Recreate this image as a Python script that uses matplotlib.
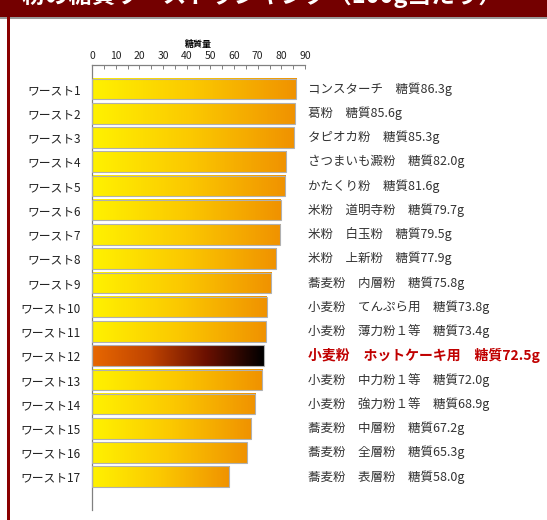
import numpy as np
import matplotlib
matplotlib.use("Agg")
import matplotlib.pyplot as plt
from matplotlib.colors import LinearSegmentedColormap
from matplotlib.patches import Rectangle
from matplotlib import transforms

plt.rcParams['font.family'] = ['Noto Sans CJK JP', 'DejaVu Sans']

# ── Data ──────────────────────────────────────────────────────────────────────
ranks = [f"ワースト{i}" for i in range(1, 18)]
foods = [
    "コンスターチ", "葛粉", "タピオカ粉", "さつまいも澱粉", "かたくり粉",
    "米粉　道明寺粉", "米粉　白玉粉", "米粉　上新粉", "蕎麦粉　内層粉",
    "小麦粉　てんぷら用", "小麦粉　薄力粉１等", "小麦粉　ホットケーキ用",
    "小麦粉　中力粉１等", "小麦粉　強力粉１等", "蕎麦粉　中層粉",
    "蕎麦粉　全層粉", "蕎麦粉　表層粉",
]
sugar = [86.3, 85.6, 85.3, 82.0, 81.6, 79.7, 79.5, 77.9, 75.8,
         73.8, 73.4, 72.5, 72.0, 68.9, 67.2, 65.3, 58.0]
highlight = 11
title = "粉の糖質ワーストランキング（100g当たり）"

W, H = 547, 520
fig = plt.figure(figsize=(W / 100, H / 100), dpi=100)

# ── Frame: banner + left border ──────────────────────────────────────────────
fig.patches.append(Rectangle((0, 1 - 17 / H), 1, 17 / H, transform=fig.transFigure,
                             facecolor='#740000', edgecolor='none', zorder=0))
fig.patches.append(Rectangle((0, 1 - 18.5 / H), 1, 1.5 / H, transform=fig.transFigure,
                             facecolor='#9a9a9a', edgecolor='none', zorder=0))
fig.patches.append(Rectangle((7 / W, 0), 3 / W, 1 - 17 / H, transform=fig.transFigure,
                             facecolor='#8a0000', edgecolor='none', zorder=0))
# title sits mostly above the top edge, as in the reference crop
fig.text(22 / W, 1 + 5 / H, title, color='white', fontsize=17, fontweight='bold',
         ha='left', va='center')

# ── Axes ─────────────────────────────────────────────────────────────────────
x0, x1 = 92, 305
ytop, ybot = 65, 510
ax = fig.add_axes([x0 / W, 1 - ybot / H, (x1 - x0) / W, (ybot - ytop) / H])

cmap_norm = LinearSegmentedColormap.from_list('norm', ['#fff200', '#fbc800', '#f09200'])
cmap_hl = LinearSegmentedColormap.from_list('hl', ['#e86800', '#c04400', '#6a1000', '#000000'])
grad = np.linspace(0, 1, 256).reshape(1, -1)

bh = 0.85
for i, v in enumerate(sugar):
    cm = cmap_hl if i == highlight else cmap_norm
    ax.imshow(grad, cmap=cm, aspect='auto', interpolation='bilinear',
              extent=[0, v, i + bh / 2, i - bh / 2], zorder=2)
    ax.add_patch(Rectangle((0, i - bh / 2), v, bh, fill=False,
                           edgecolor='#b0b0b0', linewidth=0.8, zorder=3))

ax.set_xlim(0, 90)
ax.set_ylim(17.37, -0.99)

ax.spines['right'].set_visible(False)
ax.spines['bottom'].set_visible(False)
for s in ('left', 'top'):
    ax.spines[s].set_color('#808080')
    ax.spines[s].set_linewidth(0.9)

ax.xaxis.set_ticks_position('top')
ax.set_xticks(np.arange(0, 91, 10))
ax.set_xticks(np.arange(0, 91, 5), minor=True)
ax.tick_params(axis='x', which='both', direction='in', length=3, width=0.7,
               color='#808080', labelsize=7.5, pad=3, labelcolor='#222222')
ax.set_xlabel('糖質量', fontsize=6.5, fontweight='bold', labelpad=3)
ax.xaxis.set_label_position('top')

ax.set_yticks(range(len(ranks)))
ax.set_yticklabels(ranks, fontsize=8.5, color='#222222')
ax.tick_params(axis='y', length=0, pad=8)

tr = transforms.blended_transform_factory(ax.transAxes, ax.transData)
for i, (f, v) in enumerate(zip(foods, sugar)):
    if i == highlight:
        ax.text(1.012, i, f"{f}　糖質{v:.1f}g", transform=tr, fontsize=10,
                fontweight='bold', color='#c00000', va='center', ha='left')
    else:
        ax.text(1.012, i, f"{f}　糖質{v:.1f}g", transform=tr, fontsize=9,
                color='#333333', va='center', ha='left')

fig.savefig('out.png', dpi=100)
